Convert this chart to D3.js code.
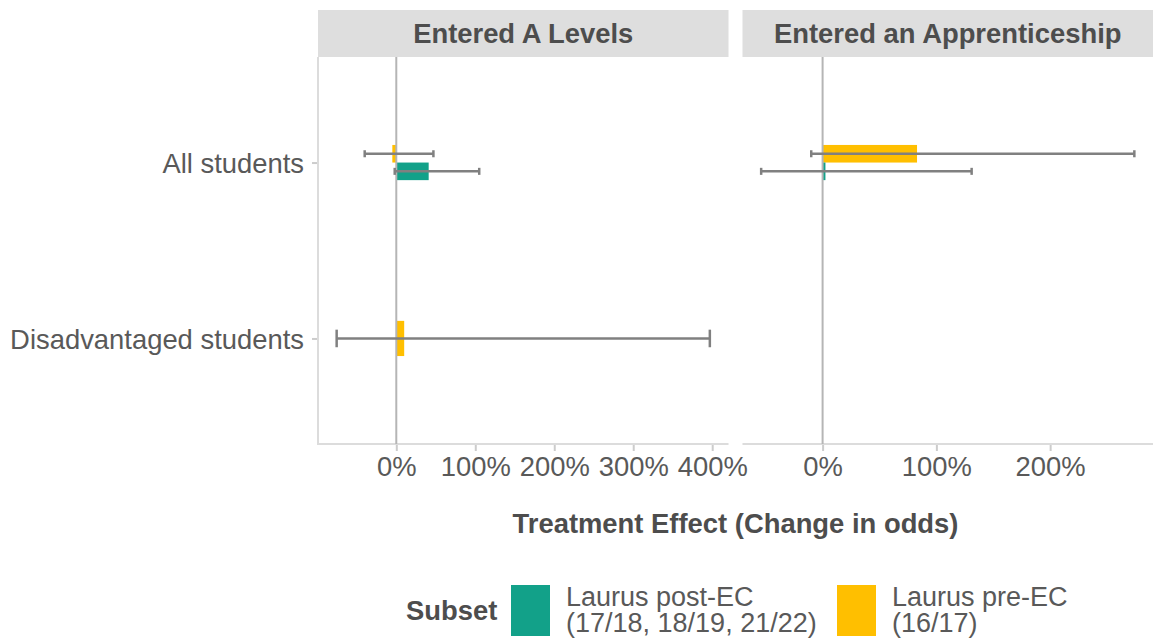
<!DOCTYPE html>
<html>
<head>
<meta charset="utf-8">
<script src="https://cdn.jsdelivr.net/npm/d3@7"></script>
<style>
  html, body { margin: 0; padding: 0; background: #fff; }
  svg { display: block; font-family: "Liberation Sans", Arial, sans-serif; }
</style>
</head>
<body>
<svg id="chart" width="1153" height="642"></svg>
<script>
// Facets, groups and subsets
const outcomes = ["Entered A Levels", "Entered an Apprenticeship"];
const groups = ["All students", "Disadvantaged students"];
const subsets = ["Laurus post-EC", "Laurus pre-EC"];
const subsetLabels = [["Laurus post-EC", "(17/18, 18/19, 21/22)"], ["Laurus pre-EC", "(16/17)"]];
const subsetColors = ["#12A189", "#FFBF00"];

// Estimates (change in odds) with confidence interval bounds
const rowOutcome = ["Entered A Levels", "Entered A Levels", "Entered A Levels", "Entered an Apprenticeship", "Entered an Apprenticeship"];
const rowGroup   = ["All students", "All students", "Disadvantaged students", "All students", "All students"];
const rowSubset  = ["Laurus pre-EC", "Laurus post-EC", "Laurus pre-EC", "Laurus pre-EC", "Laurus post-EC"];
const estimate   = [-0.05, 0.41, 0.10, 0.83, 0.025];
const lower      = [-0.40, -0.02, -0.755, -0.10, -0.54];
const upper      = [0.47, 1.05, 3.97, 2.74, 1.31];

// Tick values per facet
const tickValues = {
  "Entered A Levels": [0, 1, 2, 3, 4],
  "Entered an Apprenticeship": [0, 1, 2]
};

const rows = estimate.map((e, i) => ({
  outcome: rowOutcome[i], group: rowGroup[i], subset: rowSubset[i],
  est: e, lo: lower[i], hi: upper[i]
}));

const svg = d3.select("#chart");
const textColor = "#4d4d4d";
const tickColor = "#595959";
const fs = 27.4;

const plotLeft = 318, plotRight = 1153, gap = 14;
const plotTop = 57, plotBottom = 444;
const stripTop = 10;
const panelW = (plotRight - plotLeft - gap) / outcomes.length;

const y = d3.scalePoint().domain(groups).range([plotTop, plotBottom]).padding(0.6);
const step = y.step();
const pct = d => d3.format(".0%")(d);

outcomes.forEach((outcome, pi) => {
  const x0 = plotLeft + pi * (panelW + gap);
  const x1 = x0 + panelW;
  const data = rows.filter(r => r.outcome === outcome);
  const ext = d3.extent(data.flatMap(r => [r.lo, r.hi, r.est, 0]));
  const pad = (ext[1] - ext[0]) * 0.05;
  const x = d3.scaleLinear().domain([ext[0] - pad, ext[1] + pad]).range([x0, x1]);

  const g = svg.append("g");

  // Strip
  g.append("rect").attr("x", x0).attr("y", stripTop).attr("width", panelW)
    .attr("height", plotTop - stripTop).attr("fill", "#dedede");
  g.append("text").attr("x", (x0 + x1) / 2).attr("y", 43)
    .attr("text-anchor", "middle").attr("font-size", fs).attr("font-weight", "bold")
    .attr("fill", textColor).text(outcome);

  // Bottom axis
  const ax = g.append("g").attr("transform", `translate(0,${plotBottom})`)
    .call(d3.axisBottom(x).tickValues(tickValues[outcome]).tickFormat(pct).tickSize(7).tickPadding(6));
  ax.select(".domain").remove();
  ax.selectAll(".tick line").attr("stroke", "#cccccc").attr("stroke-width", 2);
  ax.selectAll(".tick text").attr("font-size", fs).attr("fill", tickColor)
    .attr("font-family", "Liberation Sans, Arial, sans-serif");
  g.append("line").attr("x1", x0).attr("x2", x1).attr("y1", plotBottom).attr("y2", plotBottom)
    .attr("stroke", "#dcdcdc").attr("stroke-width", 2);

  // Left axis on the first facet only
  if (pi === 0) {
    const ay = g.append("g").attr("transform", `translate(${x0},0)`)
      .call(d3.axisLeft(y).tickSize(6).tickPadding(8));
    ay.select(".domain").remove();
    ay.selectAll(".tick line").attr("stroke", "#cccccc").attr("stroke-width", 2);
    ay.selectAll(".tick text").attr("font-size", fs).attr("fill", tickColor)
      .attr("font-family", "Liberation Sans, Arial, sans-serif").attr("dy", "0.35em");
    g.append("line").attr("x1", x0).attr("x2", x0).attr("y1", plotTop).attr("y2", plotBottom + 1)
      .attr("stroke", "#dcdcdc").attr("stroke-width", 2);
  }

  // Dodged placement within each group
  const place = r => {
    const n = data.filter(d => d.group === r.group).length;
    const yc = y(r.group);
    if (n === 1) return { top: yc - 0.1 * step, h: 0.2 * step, cy: yc, cap: 0.05 * step };
    const above = r.subset === "Laurus pre-EC";
    return above
      ? { top: yc - 0.1 * step, h: 0.1 * step, cy: yc - 0.05 * step, cap: 0.02 * step }
      : { top: yc, h: 0.1 * step, cy: yc + 0.05 * step, cap: 0.02 * step };
  };

  // Bars
  g.selectAll("rect.bar").data(data).join("rect").attr("class", "bar")
    .attr("x", r => Math.min(x(0), x(r.est)))
    .attr("width", r => Math.abs(x(r.est) - x(0)))
    .attr("y", r => place(r).top)
    .attr("height", r => place(r).h)
    .attr("fill", r => subsetColors[subsets.indexOf(r.subset)]);

  // Zero reference line
  g.append("line").attr("x1", x(0)).attr("x2", x(0)).attr("y1", plotTop).attr("y2", plotBottom)
    .attr("stroke", "#b5b5b5").attr("stroke-width", 2);

  // Error bars
  const eb = g.selectAll("g.eb").data(data).join("g").attr("class", "eb")
    .attr("stroke", "#808080").attr("stroke-width", 2.5);
  eb.append("line").attr("x1", r => x(r.lo)).attr("x2", r => x(r.hi))
    .attr("y1", r => place(r).cy).attr("y2", r => place(r).cy);
  eb.append("line").attr("x1", r => x(r.lo)).attr("x2", r => x(r.lo))
    .attr("y1", r => place(r).cy - place(r).cap).attr("y2", r => place(r).cy + place(r).cap);
  eb.append("line").attr("x1", r => x(r.hi)).attr("x2", r => x(r.hi))
    .attr("y1", r => place(r).cy - place(r).cap).attr("y2", r => place(r).cy + place(r).cap);
});

// Axis title
svg.append("text").attr("x", (plotLeft + plotRight) / 2).attr("y", 533)
  .attr("text-anchor", "middle").attr("font-size", fs).attr("font-weight", "bold")
  .attr("fill", textColor).text("Treatment Effect (Change in odds)");

// Legend
const legend = svg.append("g");
legend.append("text").attr("x", 406).attr("y", 620).attr("font-size", fs)
  .attr("font-weight", "bold").attr("fill", textColor).text("Subset");
const keyX = [511, 837];
subsets.forEach((s, i) => {
  legend.append("rect").attr("x", keyX[i]).attr("y", 585).attr("width", 39).attr("height", 51)
    .attr("fill", subsetColors[i]);
  subsetLabels[i].forEach((line, li) => {
    legend.append("text").attr("font-size", fs - 0.4).attr("fill", tickColor)
      .attr("x", keyX[i] + 55).attr("y", 606 + li * 26).text(line);
  });
});
</script>
</body>
</html>
